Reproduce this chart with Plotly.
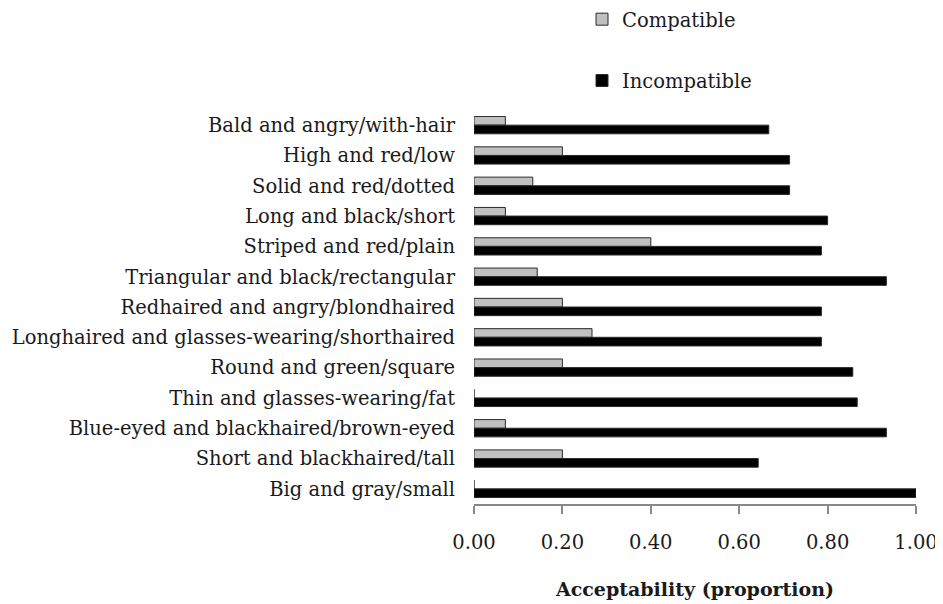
import plotly.graph_objects as go

categories = [
    "Bald and angry/with-hair",
    "High and red/low",
    "Solid and red/dotted",
    "Long and black/short",
    "Striped and red/plain",
    "Triangular and black/rectangular",
    "Redhaired and angry/blondhaired",
    "Longhaired and glasses-wearing/shorthaired",
    "Round and green/square",
    "Thin and glasses-wearing/fat",
    "Blue-eyed and blackhaired/brown-eyed",
    "Short and blackhaired/tall",
    "Big and gray/small",
]
compatible = [0.071, 0.20, 0.133, 0.071, 0.40, 0.143, 0.20, 0.267, 0.20, 0.0, 0.071, 0.20, 0.0]
incompatible = [0.667, 0.714, 0.714, 0.80, 0.786, 0.933, 0.786, 0.786, 0.857, 0.867, 0.933, 0.643, 1.0]
tick_vals = [0, 0.2, 0.4, 0.6, 0.8, 1.0]
tick_text = ["0.00", "0.20", "0.40", "0.60", "0.80", "1.00"]

FONT = "DejaVu Serif"
FS = 19.5
TXT = "#1a1a1a"
W, H = 935, 596
PLOT_H = H - 102 - 100

fig = go.Figure()
fig.add_trace(go.Bar(
    y=categories, x=compatible, orientation="h", name="Compatible",
    marker=dict(color="#c0c0c0", line=dict(color="#2a2a2a", width=1)),
    legendgroup="a",
))
fig.add_trace(go.Bar(
    y=categories, x=incompatible, orientation="h", name="Incompatible",
    marker=dict(color="#000000", line=dict(color="#2a2a2a", width=1)),
    legendgroup="b",
))

# page body has an 8px margin, so the figure is drawn 8px smaller and offset
fig.update_layout(
    width=W, height=H,
    margin=dict(l=466, r=27, t=102, b=100, autoexpand=False),
    paper_bgcolor="white", plot_bgcolor="white",
    barmode="group", bargap=0.43, bargroupgap=0,
    font=dict(family=FONT, size=FS, color=TXT),
    showlegend=True,
    legend=dict(
        x=574 / W, y=1 + 110 / PLOT_H, xref="container", yref="paper",
        xanchor="left", yanchor="top",
        traceorder="grouped", tracegroupgap=33,
        font=dict(family=FONT, size=FS, color=TXT),
        itemwidth=30, bgcolor="rgba(0,0,0,0)",
    ),
    xaxis=dict(
        range=[0, 1.0], tickvals=tick_vals, ticktext=tick_text,
        showgrid=False, zeroline=False,
        showline=True, linecolor="#888888", linewidth=1.5,
        ticks="outside", ticklen=8, tickcolor="#888888", tickwidth=1.5,
        ticklabelstandoff=12,
        tickfont=dict(family=FONT, size=FS, color=TXT),
        title=dict(text="<b>Acceptability (proportion)</b>", standoff=30,
                   font=dict(family=FONT, size=19, color=TXT)),
    ),
    yaxis=dict(
        autorange="reversed", showgrid=False, zeroline=False, showline=False,
        ticks="", ticklabelstandoff=18,
        tickfont=dict(family=FONT, size=FS, color=TXT),
    ),
)

fig.write_html("out.html")
